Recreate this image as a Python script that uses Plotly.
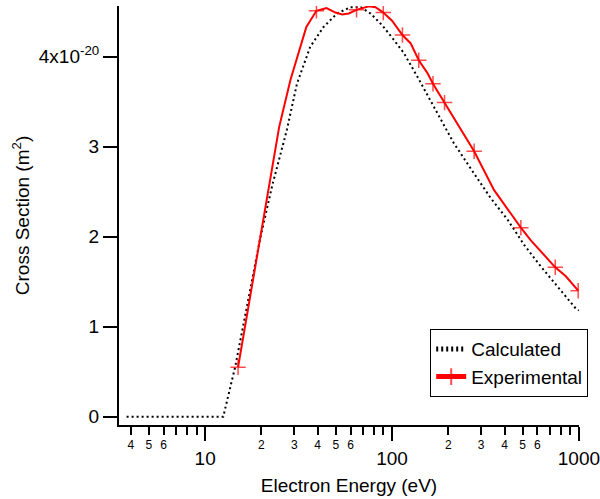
import numpy as np
import plotly.graph_objects as go

# Calculated cross section (units of 1e-20 m^2) vs electron energy (eV)
calc_energy = [3.8, 12.5, 14.5, 17, 19.7, 22.8, 27.4, 31, 36.5, 43, 50.8, 60, 68,
               76.7, 88.5, 102, 115.7, 136.5, 167.5, 214, 275, 337, 415, 509, 625,
               769, 964, 1000]
calc_xs = [0, 0, 0.56, 1.29, 1.98, 2.56, 3.19, 3.70, 4.11, 4.33, 4.48, 4.55, 4.55,
           4.48, 4.35, 4.19, 4.04, 3.78, 3.44, 3.04, 2.70, 2.43, 2.19, 1.91, 1.67,
           1.44, 1.20, 1.18]

# Experimental cross section (units of 1e-20 m^2)
exp_energy = [15, 21.4, 24.9, 28.6, 30.4, 34.8, 39.4, 44.6, 49.8, 54.1, 58.7, 64.6,
              75.2, 81.6, 89.8, 100, 113.7, 125.6, 139, 154.4, 165.6, 191, 275, 351,
              489, 553, 652, 747, 851, 991]
exp_xs = [0.55, 2.41, 3.22, 3.74, 3.93, 4.33, 4.51, 4.54, 4.49, 4.47, 4.48, 4.52,
          4.56, 4.55, 4.49, 4.40, 4.24, 4.15, 3.96, 3.82, 3.70, 3.49, 2.95, 2.52,
          2.10, 1.96, 1.80, 1.66, 1.56, 1.40]
# which experimental points carry a "+" marker
exp_marked = [1, 0, 0, 0, 0, 0, 1, 0, 0, 0, 0, 1,
              0, 0, 1, 0, 1, 0, 1, 0, 1, 1, 1, 0,
              1, 0, 0, 1, 0, 1]

y_tickvals = [0, 1, 2, 3, 4]
y_ticktext = ["0", "1", "2", "3", "4x10<sup>-20</sup>"]
x_major = [10, 100, 1000]
x_minor = [4, 5, 6, 7, 8, 9, 20, 30, 40, 50, 60, 70, 80, 90,
           200, 300, 400, 500, 600, 700, 800, 900]
x_minor_labeled = [4, 5, 6, 20, 30, 40, 50, 60, 200, 300, 400, 500, 600]

font_family = "Arial, Liberation Sans, sans-serif"
# tiny pad past 1000 so the end tick and its label are kept
x_range = [np.log10(3.46), np.log10(1001)]

fig = go.Figure()

fig.add_trace(
    go.Scatter(
        x=calc_energy,
        y=calc_xs,
        mode="lines",
        name="Calculated",
        line=dict(color="black", width=2, dash="2px,3px"),
    )
)

fig.add_trace(
    go.Scatter(
        x=exp_energy,
        y=exp_xs,
        mode="lines+markers",
        name="Experimental",
        line=dict(color="red", width=2),
        marker=dict(
            symbol="cross-thin",
            size=[11 if m else 0 for m in exp_marked],
            color="red",
            line=dict(color="red", width=1.5),
        ),
    )
)

# invisible trace on an overlaid axis, just to carry the small minor labels
fig.add_trace(
    go.Scatter(
        x=[x_minor_labeled[0]],
        y=[None],
        xaxis="x2",
        showlegend=False,
        hoverinfo="skip",
    )
)

fig.update_layout(
    width=600,
    height=499,
    plot_bgcolor="white",
    paper_bgcolor="white",
    margin=dict(l=119, r=21, t=6, b=74, autoexpand=False),
    font=dict(family=font_family, size=19, color="black"),
    showlegend=True,
    legend=dict(
        x=1.02,
        xanchor="right",
        y=0.229,
        yanchor="top",
        bordercolor="black",
        borderwidth=1,
        bgcolor="white",
        font=dict(size=19),
        itemsizing="constant",
        tracegroupgap=0,
    ),
    xaxis=dict(
        type="log",
        range=x_range,
        automargin=False,
        showline=True,
        linecolor="black",
        linewidth=2,
        showgrid=False,
        zeroline=False,
        ticks="outside",
        tickmode="array",
        tickvals=x_major,
        ticktext=[str(v) for v in x_major],
        ticklen=14,
        tickwidth=1.5,
        tickcolor="black",
        tickfont=dict(size=19),
        ticklabelstandoff=1,
        ticklabeloverflow="allow",
        minor=dict(
            tickmode="array",
            tickvals=x_minor,
            ticks="outside",
            ticklen=8,
            tickwidth=1.5,
            tickcolor="black",
            showgrid=False,
        ),
        title=dict(text="Electron Energy (eV)", font=dict(size=19), standoff=11),
    ),
    xaxis2=dict(
        type="log",
        range=x_range,
        overlaying="x",
        anchor="y",
        side="bottom",
        automargin=False,
        showline=False,
        showgrid=False,
        zeroline=False,
        ticks="",
        tickmode="array",
        tickvals=x_minor_labeled,
        ticktext=[str(v)[0] for v in x_minor_labeled],
        tickfont=dict(size=12),
        ticklabelstandoff=11,
    ),
    yaxis=dict(
        range=[-0.092, 4.563],
        automargin=False,
        showline=True,
        linecolor="black",
        linewidth=2,
        showgrid=False,
        zeroline=False,
        ticks="outside",
        tickmode="array",
        tickvals=y_tickvals,
        ticktext=y_ticktext,
        ticklen=14,
        tickwidth=1.5,
        tickcolor="black",
        tickfont=dict(size=19),
        title=dict(text="Cross Section (m<sup>2</sup>)", font=dict(size=19), standoff=4),
    ),
)

# page body has a default 8px margin; drop it so the figure sits at the corner
fig.write_html(
    "out.html",
    config={"displayModeBar": False},
    post_script="document.body.style.margin='0';",
)
